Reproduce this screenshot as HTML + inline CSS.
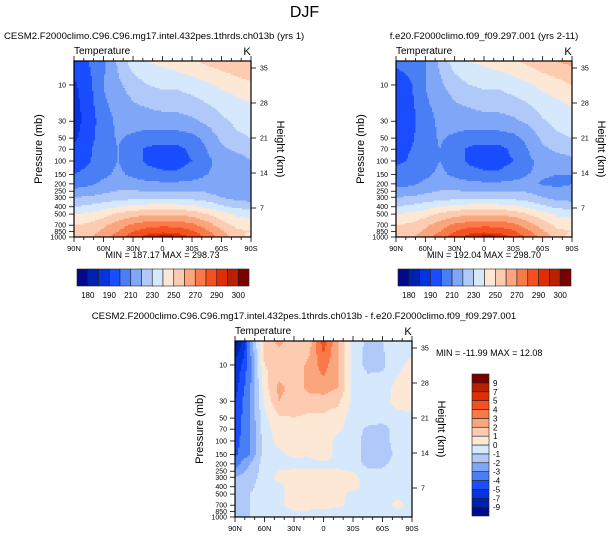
<!DOCTYPE html>
<html><head><meta charset="utf-8">
<style>
html,body{margin:0;padding:0;background:#fff;}
svg{display:block;font-family:"Liberation Sans",Arial,sans-serif;}
</style></head>
<body>
<svg id="chart" width="609" height="538" viewBox="0 0 609 538" xmlns="http://www.w3.org/2000/svg">
<text x="304.5" y="17" font-size="16" text-anchor="middle">DJF</text>
<g id="root"></g>
</svg>
<script>
// ---------- data ----------
const lats = [90,75,60,45,30,15,0,-15,-30,-45,-60,-75,-90];
const pres = [5,10,20,30,50,70,100,150,200,300,400,500,700,850,1000];
const tempA = [
 [195,200,208,222,235,240,242,245,248,252,255,258,260],
 [188,197,210,218,225,230,232,232,235,238,242,245,248],
 [186,195,208,213,218,220,222,222,224,228,232,235,238],
 [186,194,206,212,215,215,215,216,218,222,228,232,234],
 [188,196,206,211,208,205,205,205,207,213,222,228,230],
 [192,198,207,210,204,198,197,197,202,210,218,222,224],
 [192,199,206,210,205,198,196,196,200,208,213,215,220],
 [200,204,208,212,208,204,202,202,205,210,212,212,214],
 [205,208,212,215,214,213,212,212,213,213,210,210,212],
 [220,221,223,225,226,226,226,226,226,224,220,216,215],
 [230,232,236,240,243,245,245,245,243,238,232,228,226],
 [240,242,246,252,256,258,258,258,256,250,244,238,236],
 [250,252,258,265,272,276,278,277,273,265,255,248,246],
 [252,255,262,270,280,286,288,287,282,272,262,252,250],
 [255,258,266,276,286,294,298,297,288,278,266,256,245]];
const tempB = [
 [202,204,210,222,235,240,242,245,248,252,256,260,262],
 [194,199,210,218,225,230,232,232,235,238,243,246,250],
 [192,197,208,213,218,220,222,222,224,228,233,236,240],
 [193,197,206,212,215,215,215,216,218,222,229,233,235],
 [194,198,206,211,208,205,205,205,207,213,222,228,230],
 [196,200,207,210,204,198,197,197,202,210,218,222,224],
 [198,201,206,210,205,198,196,196,200,208,213,215,218],
 [203,205,208,212,208,204,202,202,205,210,211,210,210],
 [206,208,212,215,214,213,212,212,213,213,209,208,210],
 [220,221,223,225,226,226,226,226,226,224,220,216,215],
 [230,232,236,240,243,245,245,245,243,238,232,228,226],
 [240,242,246,252,256,258,258,258,256,250,244,238,236],
 [250,252,258,265,272,276,278,277,273,265,255,248,246],
 [252,255,262,270,280,286,288,287,282,272,262,252,250],
 [255,258,266,276,286,294,298,297,288,278,266,256,245]];
const diffVals = [
 [-10,-3,1.5,2.2,1.5,1.5,4.5,2,-0.5,-1.2,-1,-0.5,-0.5],
 [-6,-3.5,1,1.2,1.5,2.2,3.5,2,-0.5,-1.3,-1.2,-0.3,0.3],
 [-5.5,-3.2,0.5,2.3,1.5,2.3,2.5,2,-0.3,-0.5,-0.5,0.3,0.5],
 [-5,-3,0.2,2,1.5,1.5,1.5,1.2,-0.3,-0.5,-0.3,0.3,0.5],
 [-4.8,-3,-0.3,0.8,1,0.8,0.8,0.5,-0.5,-0.5,-0.5,-0.3,-0.3],
 [-4.6,-3,-0.4,0.5,0.8,0.3,0.3,0.2,-0.5,-1.2,-1.5,-0.5,-0.5],
 [-4.5,-3,-0.5,0.3,0.5,0.2,0.5,-0.3,-0.5,-1.5,-1.5,-0.5,-0.5],
 [-4.2,-3,-0.5,-0.2,0.2,0.1,0.5,-0.3,-0.5,-1.5,-2,-0.5,-0.5],
 [-3.5,-2,-0.5,-0.3,-0.3,-0.3,-0.2,-0.3,-0.5,-1.3,-1.2,-0.5,-0.5],
 [-2,-1.5,-0.5,0.3,0.5,0.5,0.5,0.5,0.3,-0.5,-0.5,-0.5,-0.5],
 [-1.5,-1.2,-0.5,-0.3,0.5,0.5,0.5,0.4,0.3,-0.3,-0.5,-0.4,-0.3],
 [-1.5,-1,-0.5,-0.3,0.5,0.5,0.5,0.3,-0.3,-0.3,-0.5,-0.3,-0.3],
 [-1.5,-1,-0.5,-0.3,0.5,0.5,0.3,0.2,-0.3,-0.3,-0.5,0.3,-0.3],
 [-1.5,-1,-0.5,-0.3,-0.2,-0.2,-0.2,-0.3,-0.3,-0.5,-0.5,-0.3,-0.3],
 [-1.5,-1,-0.5,-0.3,-0.3,-0.2,-0.2,-0.3,-0.3,-0.5,-0.5,-0.3,-0.3]];
const tempLevels = [180,185,190,200,210,220,230,240,250,260,270,280,290,295,300];
const tempLabels = ["180","190","210","230","250","270","290","300"];
const diffLevels = [-9,-7,-5,-4,-3,-2,-1,0,1,2,3,4,5,7,9];
const diffLabels = ["-9","-7","-5","-4","-3","-2","-1","0","1","2","3","4","5","7","9"];
const pTicks = [10,30,50,70,100,150,200,250,300,400,500,700,850,1000];
const zTicks = [7,14,21,28,35];
const latTicks = [90,60,30,0,-30,-60,-90];
const latTickLabels = ["90N","60N","30N","0","30S","60S","90S"];
const colors = ['#000a8a','#0020b0','#0434e0','#1a4dff','#4a7ef5','#80a6f7','#b0c9f9','#d6e8fc','#fde8d6','#fdcbb0','#faa57c','#f97a48','#f55020','#e02e04','#b82000','#7a0000'];

// ---------- helpers ----------
const NS='http://www.w3.org/2000/svg';
const root=document.getElementById('root');
function mk(tag,attrs,parent){const e=document.createElementNS(NS,tag);for(const k in attrs)e.setAttribute(k,attrs[k]);(parent||root).appendChild(e);return e;}
const lpTop=Math.log10(4.84), lpBot=3;
const lps=pres.map(p=>Math.log10(p));
function field(grid,lat,lp){
  let fi=(90-lat)/15; fi=Math.max(0,Math.min(12,fi));
  const i0=Math.min(11,Math.floor(fi)), ti=fi-i0;
  let j0=0; while(j0<lps.length-2 && lp>lps[j0+1]) j0++;
  let tj=(lp-lps[j0])/(lps[j0+1]-lps[j0]); tj=Math.max(0,Math.min(1,tj));
  const a=grid[j0][i0],b=grid[j0][i0+1],c=grid[j0+1][i0],d=grid[j0+1][i0+1];
  return (a*(1-ti)+b*ti)*(1-tj)+(c*(1-ti)+d*ti)*tj;
}
function colorIdx(v,levels){let k=0;while(k<levels.length&&v>=levels[k])k++;return k;}

function panel(name,grid,levels,x0,y0,W,H,title,titleX,anchor,minmax,mmx,mmy,mmAnchor){
  const g=mk('g',{});
  
  
  const xs=lat=>x0+(90-lat)/180*W;
  const ys=p=>y0+(Math.log10(p)-lpTop)/(lpBot-lpTop)*H;
  const cells=mk('g',{'shape-rendering':'crispEdges'},g);
  
  
  const step=1.5;
  for(let py=0;py<H;py+=step){
    const lp=lpTop+(py+step/2)/H*(lpBot-lpTop);
    const hh=Math.min(step,H-py)+0.3;
    let runStart=0,runC=-1;
    for(let px=0;px<W;px+=step){
      const lat=90-Math.min(W,px+step/2)/W*180;
      const c=colorIdx(field(grid,lat,lp),levels);
      if(c!==runC){
        if(runC>=0) mk('rect',{x:x0+runStart,y:y0+py,width:px-runStart+0.3,height:hh,fill:colors[runC]},cells);
        runStart=px;runC=c;
      }
    }
    mk('rect',{x:x0+runStart,y:y0+py,width:W-runStart,height:hh,fill:colors[runC]},cells);
  }
  mk('rect',{x:x0,y:y0,width:W,height:H,fill:'none',stroke:'#000','stroke-width':1.2},g);
  for(let lat=90;lat>=-90;lat-=10){
    const major=lat%30===0;const x=xs(lat);const L=major?5:3;
    mk('line',{x1:x,x2:x,y1:y0+H,y2:y0+H+L,stroke:'#000','stroke-width':0.8},g);
    mk('line',{x1:x,x2:x,y1:y0,y2:y0-L,stroke:'#000','stroke-width':0.8},g);
  }
  latTicks.forEach((lat,i)=>{
    const t=mk('text',{x:xs(lat),y:y0+H+14,'font-size':7.5,'text-anchor':'middle'},g);t.textContent=latTickLabels[i];
    
    
  });
  pTicks.forEach(p=>{
    const y=ys(p);
    mk('line',{x1:x0-5,x2:x0,y1:y,y2:y,stroke:'#000','stroke-width':0.8},g);
    const t=mk('text',{x:x0-8,y:y+2.5,'font-size':7,'text-anchor':'end'},g);t.textContent=p;
    
    
  });
  zTicks.forEach(z=>{
    const y=y0+(182-5*z)/176*H;
    mk('line',{x1:x0+W,x2:x0+W+5,y1:y,y2:y,stroke:'#000','stroke-width':0.8},g);
    const t=mk('text',{x:x0+W+9,y:y+2.5,'font-size':7},g);t.textContent=z;
    
    
  });
  let t=mk('text',{x:x0-32,y:y0+H/2,'font-size':11,'text-anchor':'middle',transform:`rotate(-90 ${x0-32} ${y0+H/2})`},g);t.textContent='Pressure (mb)';
  
  
  t=mk('text',{x:x0+W+26,y:y0+H/2,'font-size':11,'text-anchor':'middle',transform:`rotate(90 ${x0+W+26} ${y0+H/2})`},g);t.textContent='Height (km)';
  
  
  t=mk('text',{x:x0,y:y0-7,'font-size':10},g);t.textContent='Temperature';
  
  
  t=mk('text',{x:x0+W-4,y:y0-6,'font-size':11,'text-anchor':'middle'},g);t.textContent='K';
  
  
  t=mk('text',{x:titleX,y:y0-22,'font-size':9.6,'text-anchor':anchor},g);t.textContent=title;
  
  
  t=mk('text',{x:mmx,y:mmy,'font-size':9,'text-anchor':mmAnchor},g);t.textContent=minmax;
  
  
}
function hbar(name,x0,y0,W,H){
  const g=mk('g',{});
  
  
  const n=colors.length,bw=W/n;
  for(let i=0;i<n;i++){const r=mk('rect',{x:x0+i*bw,y:y0,width:bw,height:H,fill:colors[i],stroke:'#222','stroke-width':0.6},g);
    
    }
  tempLabels.forEach((lab,k)=>{
    const b=1+2*k;
    const t=mk('text',{x:x0+b*bw,y:y0+H+12,'font-size':8,'text-anchor':'middle'},g);t.textContent=lab;
    
    
  });
}
function vbar(name,x0,y0,W,H){
  const g=mk('g',{});
  
  
  const n=colors.length,bh=H/n;
  for(let i=0;i<n;i++){const r=mk('rect',{x:x0,y:y0+H-(i+1)*bh,width:W,height:bh,fill:colors[i],stroke:'#222','stroke-width':0.6},g);
    
    }
  diffLabels.forEach((lab,k)=>{
    const y=y0+H-(k+1)*bh;
    const t=mk('text',{x:x0+W+4,y:y+3,'font-size':8},g);t.textContent=lab;
    
    
  });
}
panel('panel-cesm2',tempA,tempLevels,74,61,177,176,'CESM2.F2000climo.C96.C96.mg17.intel.432pes.1thrds.ch013b (yrs 1)',4,'start','MIN = 187.17  MAX = 298.73',162.5,258,'middle');
panel('panel-f09',tempB,tempLevels,396,61,176,176,'f.e20.F2000climo.f09_f09.297.001 (yrs 2-11)',484,'middle','MIN = 192.04  MAX = 298.70',484,258,'middle');
panel('panel-difference',diffVals,diffLevels,235,341,177,176,'CESM2.F2000climo.C96.C96.mg17.intel.432pes.1thrds.ch013b - f.e20.F2000climo.f09_f09.297.001',304,'middle','MIN = -11.99  MAX =  12.08',436,356,'start');
hbar('colorbar-cesm2',77,269,172,17);
hbar('colorbar-f09',398,269,173,17);
vbar('colorbar-difference',472,374,17,142);
</script>
</body></html>
